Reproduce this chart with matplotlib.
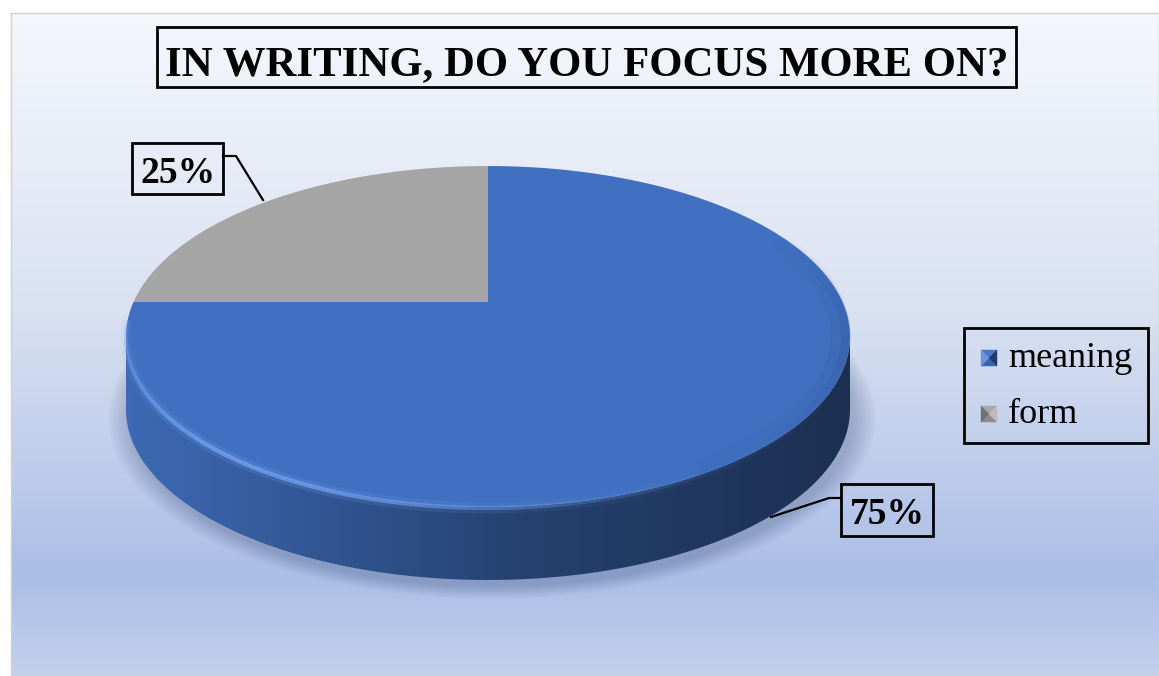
import numpy as np
import matplotlib.pyplot as plt
from matplotlib.patches import Polygon, Rectangle
from matplotlib.colors import LinearSegmentedColormap, to_rgb
from matplotlib.collections import LineCollection

title = "IN WRITING, DO YOU FOCUS MORE ON?"
labels = ["meaning", "form"]
shares = [75, 25]
colors = ["#4170c0", "#a5a5a5"]

W, H = 1159, 676
SERIF = "Liberation Serif"

fig = plt.figure(figsize=(W / 100, H / 100), dpi=100)
ax = fig.add_axes([0, 0, 1, 1])
ax.axis("off")

# chart area background: light gradient top to bottom
bg = LinearSegmentedColormap.from_list(
    "bg", [(0, "#f5f7fc"), (0.45, "#d9e1f2"), (0.85, "#abbee6"), (1, "#c2d0ec")])
ax.imshow(np.linspace(0, 1, 256)[:, None], cmap=bg, extent=(11, W, H, 13),
          aspect="auto", zorder=0, interpolation="bilinear")
ax.add_patch(Rectangle((11, 13), W - 11, H - 13, fill=False, ec="#d0d0d0", lw=1, zorder=1))

# perspective disc: u right, v away from viewer
cx, cy = 488, 302
A, B, k = 354.5, 163.5, 0.2024
depth = 73


def proj(theta, dz=0.0, shrink=1.0):
    t = np.radians(theta)
    w = 1 + k * np.sin(t)
    return cx + shrink * A * np.cos(t) / w, cy - shrink * B * np.sin(t) / w + dz


def arc_segments(x, y):
    pts = np.column_stack([x, y]).reshape(-1, 1, 2)
    return np.concatenate([pts[:-1], pts[1:]], axis=1)


# soft shadow under the disc
th = np.linspace(0, 360, 361)
bx, by = proj(th, depth)
mx, my = bx.mean(), by.mean()
for s in np.linspace(1.0, 1.06, 9):
    ax.add_patch(Polygon(np.column_stack([mx + 4 + (bx - mx) * s, my + 7 + (by - my) * s]),
                         closed=True, fc="#2b3f6b", ec="none", alpha=0.03, zorder=2))

# slice boundaries, starting at 12 o'clock going clockwise
bounds = 90 - 360 * np.concatenate([[0], np.cumsum(shares)]) / sum(shares)
vis0 = 180 + np.degrees(np.arcsin(k))
vis1 = 360 - np.degrees(np.arcsin(k))

for i, col in enumerate(colors):
    b0, b1 = bounds[i], bounds[i + 1]
    lo = b1 % 360
    hi = lo + (b0 - b1)
    # side wall (only the front part is visible)
    for off in (0, 360):
        a, b = max(lo, vis0 + off), min(hi, vis1 + off)
        if a >= b:
            continue
        t = np.linspace(a, b, 200)
        tx, ty = proj(t)
        dx, dy = proj(t[::-1], depth)
        side = Polygon(np.column_stack([np.r_[tx, dx], np.r_[ty, dy]]), closed=True,
                       fc="none", ec="none", zorder=3)
        ax.add_patch(side)
        rgb = np.array(to_rgb(col))
        cm = LinearSegmentedColormap.from_list(
            "side%d" % i, [(0, rgb * 0.95), (0.3, rgb * 0.75), (0.55, rgb * 0.58), (1, rgb * 0.42)])
        img = ax.imshow(np.linspace(0, 1, 256)[None, :], cmap=cm, aspect="auto",
                        extent=(cx - 370, cx + 370, H, cy - 200), zorder=3,
                        interpolation="bilinear")
        img.set_clip_path(side)
    # top face
    t = np.linspace(b1, b0, 300)
    tx, ty = proj(t)
    ax.add_patch(Polygon(np.column_stack([np.r_[cx, tx], np.r_[cy, ty]]), closed=True,
                         fc=col, ec="none", zorder=4))

# bevel highlight along the front rim
t = np.linspace(186, 330, 300)
segs = arc_segments(*proj(t, 1))
glow = np.exp(-((t[:-1] - 235) / 45) ** 2)
for lw, a in ((8, 0.2), (3, 0.8)):
    cols = [(0.45, 0.64, 0.95, a * g) for g in glow]
    ax.add_collection(LineCollection(segs, colors=cols, linewidths=lw, zorder=5,
                                     capstyle="butt"))

# soft darker band just inside the right edge
t = np.linspace(300, 385, 200)
shade = np.exp(-((t[:-1] - 345) / 25) ** 2)
for sh, lw, a in ((0.975, 14, 0.08), (0.988, 7, 0.12)):
    ax.add_collection(LineCollection(arc_segments(*proj(t, 0, sh)),
                                     colors=[(0.15, 0.25, 0.45, a * g) for g in shade],
                                     linewidths=lw, zorder=5))

# title
ax.add_patch(Rectangle((157, 27), 859, 60, fill=False, ec="black", lw=2, zorder=6))
ax.text(586.5, 75, title, ha="center", va="baseline", fontsize=30.8, fontweight="bold",
        family=SERIF, zorder=7)

# data labels with leader lines
ax.add_patch(Rectangle((132, 143), 91, 51, fc="none", ec="black", lw=2, zorder=6))
ax.text(177.5, 183, "%d%%" % shares[1], ha="center", va="baseline", fontsize=27,
        fontweight="bold", family=SERIF, zorder=7)
ax.plot([223, 236, 263], [156, 156, 200], color="black", lw=1.6, zorder=6)

ax.add_patch(Rectangle((841, 484), 92, 52, fc="none", ec="black", lw=2, zorder=6))
ax.text(887, 524, "%d%%" % shares[0], ha="center", va="baseline", fontsize=27,
        fontweight="bold", family=SERIF, zorder=7)
ax.plot([841, 829, 771], [498, 498, 517], color="black", lw=1.6, zorder=6)

# legend
ax.add_patch(Rectangle((964, 328), 184, 115, fc="none", ec="black", lw=2, zorder=6))
bevels = [["#4a78c8", "#3a64b0", "#6a94dc", "#203a6c"],
          ["#a8a8a8", "#8c8c8c", "#707070", "#bcbcbc"]]
for i, (lab, y) in enumerate(zip(labels, [358, 414])):
    x0, x1, y0, y1 = 981, 997, y - 8, y + 8
    xm, ym = (x0 + x1) / 2, (y0 + y1) / 2
    top, bot, left, right = bevels[i]
    for tri, c in (([(x0, y0), (x1, y0), (xm, ym)], top),
                   ([(x0, y1), (x1, y1), (xm, ym)], bot),
                   ([(x0, y0), (x0, y1), (xm, ym)], left),
                   ([(x1, y0), (x1, y1), (xm, ym)], right)):
        ax.add_patch(Polygon(tri, closed=True, fc=c, ec=c, lw=0.3, zorder=7))
    ax.text(1008, y + 9, lab, ha="left", va="baseline", fontsize=26, family=SERIF, zorder=7)

ax.set_xlim(0, W)
ax.set_ylim(H, 0)
fig.savefig("out.png", dpi=100, facecolor="white")
